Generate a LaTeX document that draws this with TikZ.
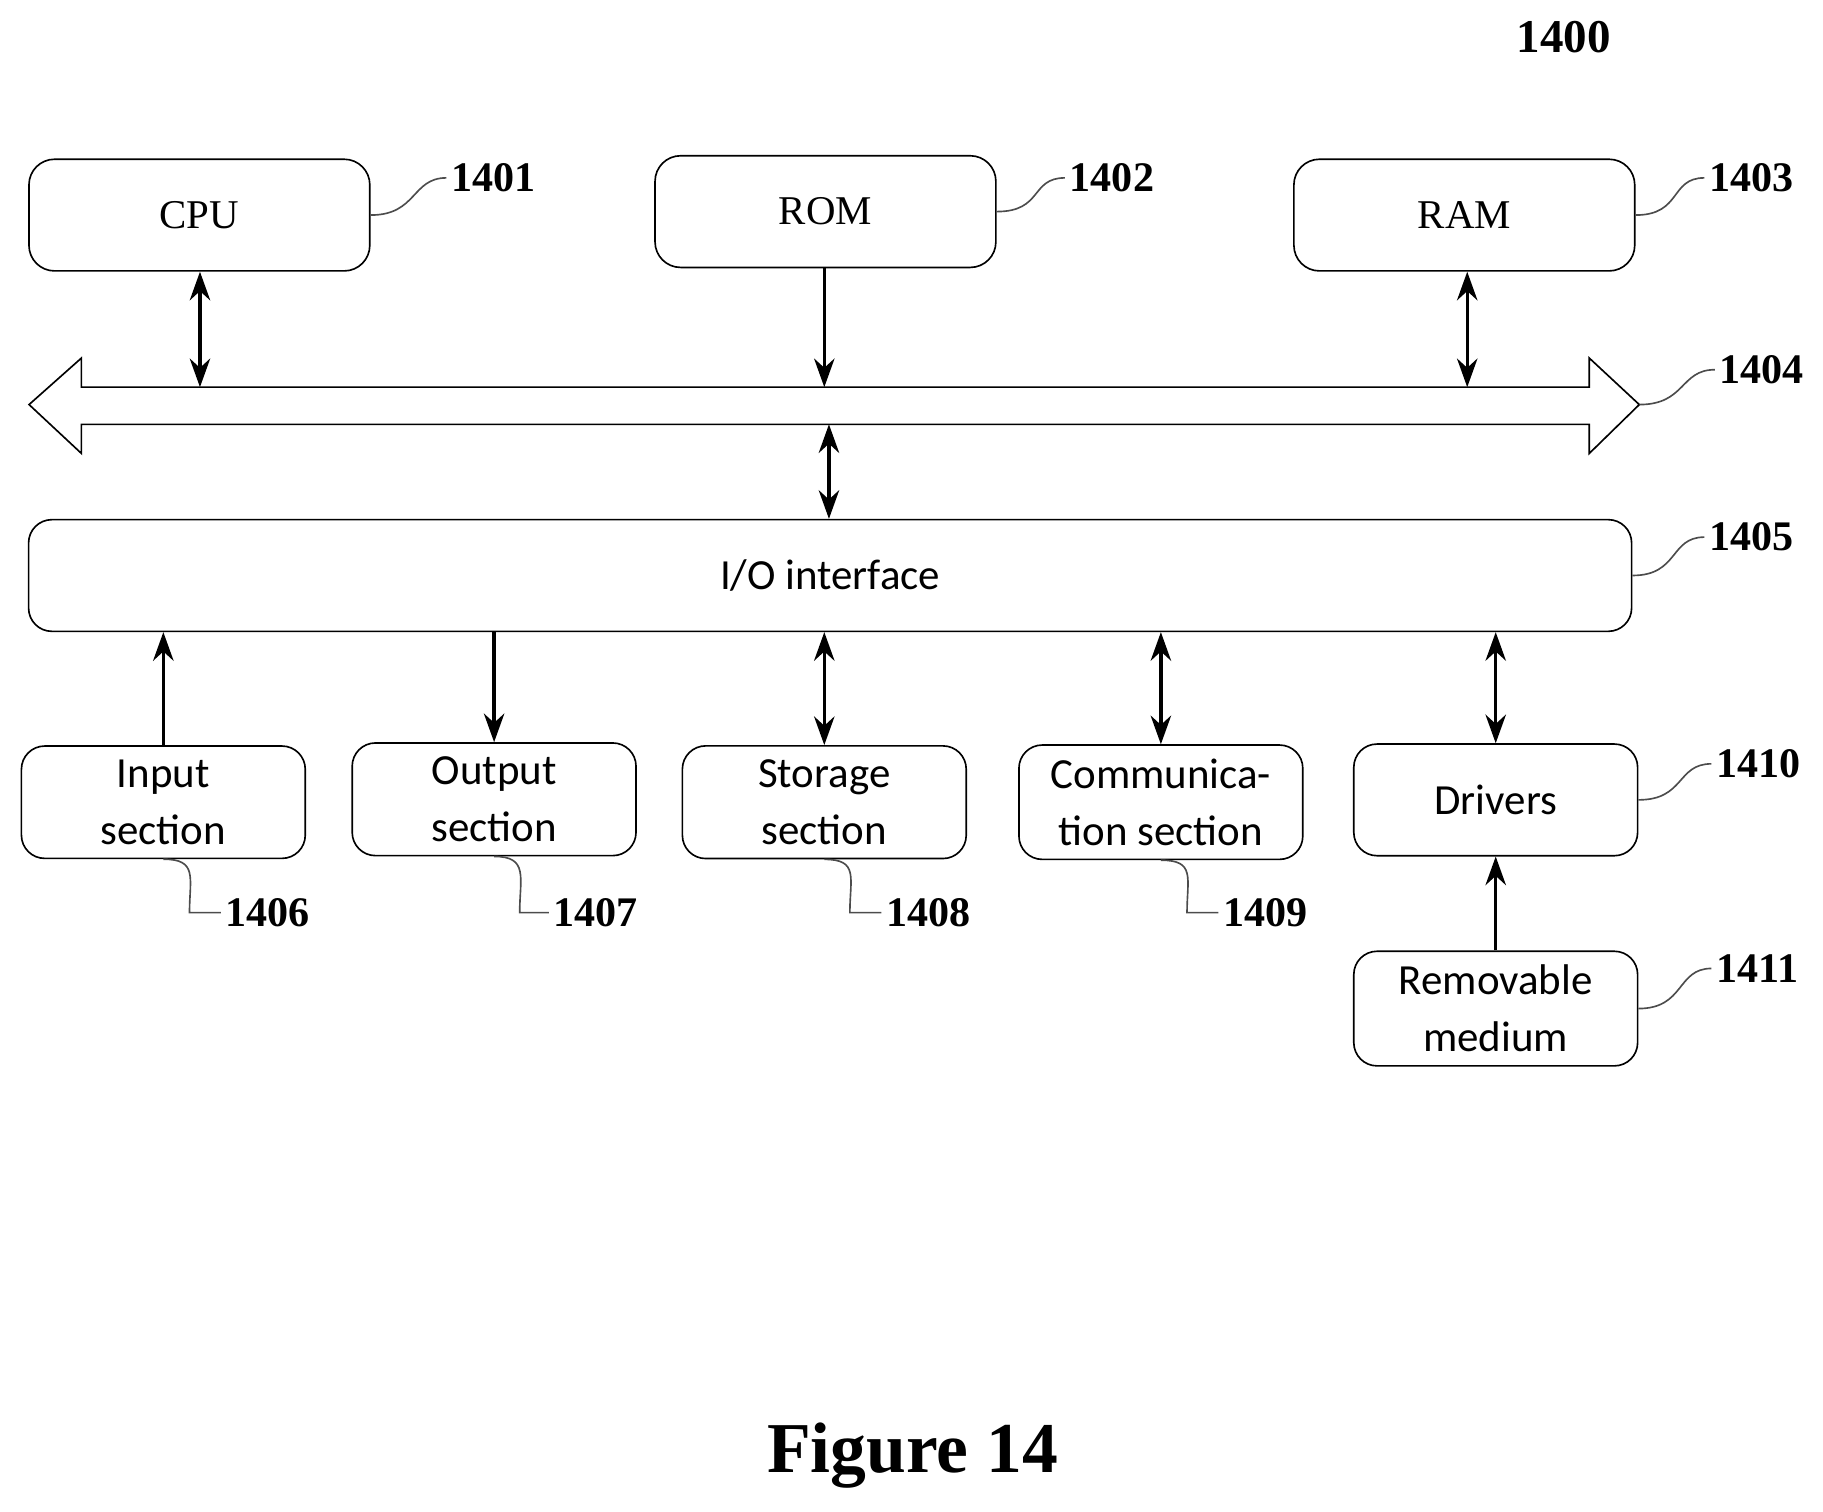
\documentclass[tikz,border=0pt]{standalone}
\usepackage{fontspec}
\setmainfont{Liberation Serif}
\newfontfamily\boxsans{Carlito}
\usetikzlibrary{arrows.meta}
\tikzset{
  unit/.style={draw,rounded corners=0.22cm,minimum width=2.93cm,minimum height=0.96cm,font=\fontsize{10}{12}\selectfont},
  port/.style={draw,rounded corners=0.2cm,minimum width=2.44cm,minimum height=0.96cm,align=center,font=\boxsans\fontsize{10.5}{14}\selectfont},
  num/.style={font=\bfseries\fontsize{10.3}{12}\selectfont,anchor=west,inner sep=1pt},
  tag/.style={draw=black!70},
  link/.style={-{Stealth[length=7pt,width=5pt]},thick},
  dlink/.style={{Stealth[length=7pt,width=5pt]}-{Stealth[length=7pt,width=5pt]},thick}
}
\begin{document}
\begin{tikzpicture}[x=0.01cm,y=-0.01cm]
\useasboundingbox (0,0) rectangle (1568,1300);
\node[font=\bfseries\fontsize{11.5}{14}\selectfont] (total) at (1345,32) {1400};
\node[unit] (cpu) at (171.5,185) {CPU};
\node[unit] (rom) at (710,182) {ROM};
\node[unit] (ram) at (1259.5,185) {RAM};
\draw (25,348) -- (70,308) -- (70,333) -- (1367,333) -- (1367,308) -- (1410,348)
  -- (1367,390) -- (1367,365) -- (70,365) -- (70,390) -- cycle;
\coordinate (bustip) at (1410,348);
\coordinate (bcpu) at (172,333);
\coordinate (brom) at (709,333);
\coordinate (bram) at (1262,333);
\coordinate (bio) at (713,365);
\node[draw,rounded corners=0.2cm,minimum width=13.78cm,minimum height=0.96cm,font=\boxsans\fontsize{10.5}{12}\selectfont] (io) at (714,495) {I/O interface};
\node[port] (in) at (140.5,690) {Input\\section};
\node[port] (out) at (425,687.5) {Output\\section};
\node[port] (sto) at (709,690) {Storage\\section};
\node[port] (com) at (998.5,690) {Communica-\\tion section};
\node[port] (drv) at (1286.5,688) {Drivers};
\node[port] (rem) at (1286.5,867.5) {Removable\\medium};
% bus connections
\draw[dlink] (cpu.south -| bcpu) -- (bcpu);
\draw[link] (rom.south -| brom) -- (brom);
\draw[dlink] (ram.south -| bram) -- (bram);
\draw[dlink] (bio) -- (io.north -| bio);
% io connections
\draw[link] (in.north) -- (in.north |- io.south);
\draw[link] (io.south -| out.north) -- (out.north);
\draw[dlink] (io.south -| sto.north) -- (sto.north);
\draw[dlink] (io.south -| com.north) -- (com.north);
\draw[dlink] (io.south -| drv.north) -- (drv.north);
\draw[link] (rem.north) -- (drv.south);
% reference numerals
\node[num] (n1401) at (384,153) {1401};
\node[num] (n1402) at (916,153) {1402};
\node[num] (n1403) at (1466,153) {1403};
\node[num] (n1404) at (1475,318) {1404};
\node[num] (n1405) at (1466,462) {1405};
\node[num] (n1406) at (190,785) {1406};
\node[num] (n1407) at (472,785) {1407};
\node[num] (n1408) at (758,785) {1408};
\node[num] (n1409) at (1048,785) {1409};
\node[num] (n1410) at (1472,657) {1410};
\node[num] (n1411) at (1472,833) {1411};
\draw[tag] (cpu.east) .. controls +(40,0) and +(-30,0) .. (n1401.west);
\draw[tag] (rom.east) .. controls +(40,0) and +(-30,0) .. (n1402.west);
\draw[tag] (ram.east) .. controls +(40,0) and +(-30,0) .. (n1403.west);
\draw[tag] (bustip) .. controls +(40,0) and +(-30,0) .. (n1404.west);
\draw[tag] (io.east) .. controls +(40,0) and +(-30,0) .. (n1405.west);
\draw[tag] (drv.east) .. controls +(40,0) and +(-30,0) .. (n1410.west);
\draw[tag] (rem.east) .. controls +(40,0) and +(-30,0) .. (n1411.west);
\draw[tag] (in.south) .. controls +(30,0) and +(0,-30) .. (163,785) -- (n1406.west);
\draw[tag] (out.south) .. controls +(30,0) and +(0,-30) .. (447,785) -- (n1407.west);
\draw[tag] (sto.south) .. controls +(30,0) and +(0,-30) .. (731,785) -- (n1408.west);
\draw[tag] (com.south) .. controls +(30,0) and +(0,-30) .. (1021,785) -- (n1409.west);
\node[font=\bfseries\fontsize{17.5}{21}\selectfont] (caption) at (785,1252) {Figure 14};
\end{tikzpicture}
\end{document}
